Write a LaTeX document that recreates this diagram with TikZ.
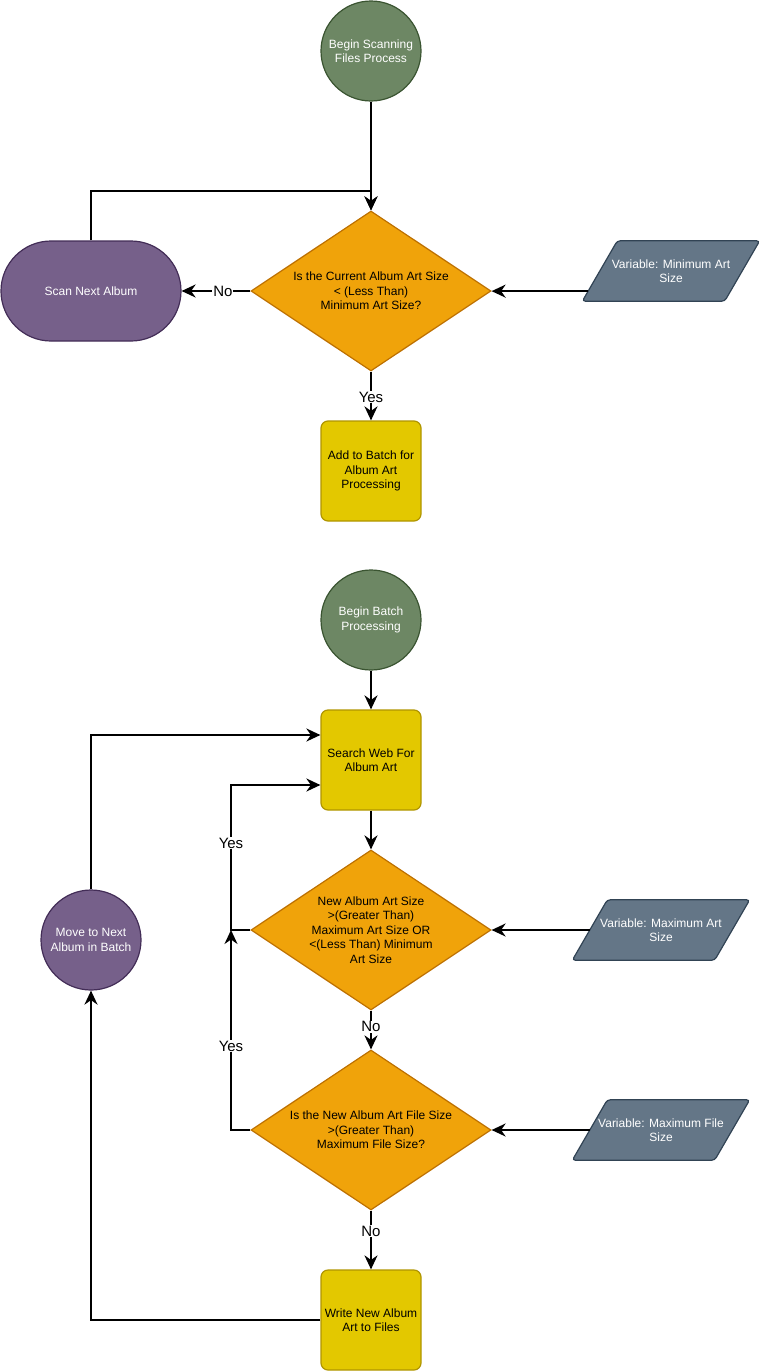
\documentclass[tikz,border=0pt]{standalone}
\usepackage{fontspec}
\setmainfont{Liberation Sans}
\usetikzlibrary{shapes.geometric,arrows.meta,calc,backgrounds}
\definecolor{gfill}{HTML}{6D8764}\definecolor{gdraw}{HTML}{3A5431}
\definecolor{pfill}{HTML}{76608A}\definecolor{pdraw}{HTML}{432D57}
\definecolor{ofill}{HTML}{F0A30A}\definecolor{odraw}{HTML}{BD7000}
\definecolor{yfill}{HTML}{E3C800}\definecolor{ydraw}{HTML}{B09500}
\definecolor{sfill}{HTML}{647687}\definecolor{sdraw}{HTML}{314354}
\tikzset{
  txt/.style={font=\fontsize{12}{14.5}\selectfont, align=center},
  startnode/.style={circle, fill=gfill, draw=gdraw, line width=1.2pt, minimum size=100pt, inner sep=0pt, txt, text=white},
  movenode/.style={circle, fill=pfill, draw=pdraw, line width=1.2pt, minimum size=100pt, inner sep=0pt, txt, text=white},
  stadium/.style={rectangle, rounded corners=50pt, fill=pfill, draw=pdraw, line width=1.2pt, minimum width=180pt, minimum height=100pt, txt, text=white},
  procbox/.style={rectangle, rounded corners=7pt, fill=yfill, draw=ydraw, line width=1.2pt, minimum width=100pt, minimum height=100pt, inner sep=0pt, txt, text=black},
  decision/.style={diamond, fill=ofill, draw=odraw, line width=1.2pt, minimum width=240pt, minimum height=160pt, inner sep=0pt},
  dectext/.style={txt, text=black, inner sep=0pt},
  varnode/.style={rectangle, minimum width=177pt, minimum height=60pt, inner sep=0pt, txt, text=white},
  varshape/.style={rounded corners=3pt, fill=sfill, draw=sdraw, line width=1.2pt},
  arr/.style={line width=2pt, -{Stealth[length=14pt,width=13pt,inset=4.5pt]}},
  lbl/.style={fill=white, inner sep=1pt, font=\fontsize{15}{17}\selectfont, text=black},
}
\begin{document}
\begin{tikzpicture}[x=1pt,y=-1pt]
\useasboundingbox (0,0) rectangle (762,1371);
% top section
\node[startnode] (c1) at (371,51) {Begin Scanning\\Files Process};
\node[decision, label={[dectext]center:Is the Current Album Art Size\\< (Less Than)\\Minimum Art Size?}] (d1) at (371,291) {};
\node[stadium] (s1) at (91,291) {Scan Next Album};
\node[varnode] (v1) at (671,271) {Variable: Minimum Art\\Size};
\node[procbox] (b1) at (371,471) {Add to Batch for\\Album Art\\Processing};
% bottom section
\node[startnode] (c2) at (371,620) {Begin Batch\\Processing};
\node[procbox] (b2) at (371,760) {Search Web For\\Album Art};
\node[decision, label={[dectext]center:New Album Art Size\\>(Greater Than)\\Maximum Art Size OR\\<(Less Than) Minimum\\Art Size}] (d2) at (371,930) {};
\node[varnode] (v2) at (661,930) {Variable: Maximum Art\\Size};
\node[decision, label={[dectext]center:Is the New Album Art File Size\\>(Greater Than)\\Maximum File Size?}] (d3) at (371,1130) {};
\node[varnode] (v3) at (661,1130) {Variable: Maximum File\\Size};
\node[procbox] (b3) at (371,1320) {Write New Album\\Art to Files};
\node[movenode] (c3) at (91,940) {Move to Next\\Album in Batch};
% parallelogram outlines behind the variable texts
\begin{pgfonlayer}{background}
\foreach \v in {v1,v2,v3}{
  \draw[varshape] (\v.south west) -- ($(\v.north west)+(35,0)$) -- (\v.north east) -- ($(\v.south east)+(-35,0)$) -- cycle;
}
\end{pgfonlayer}
% helper coordinates
\coordinate (j1) at (371,191);
\coordinate (v1in) at ($(v1.south west)!1/6!($(v1.north west)+(35,0)$)$);
\coordinate (v2in) at ($(v2.west)+(17.5,0)$);
\coordinate (v3in) at ($(v3.west)+(17.5,0)$);
\coordinate (j2) at (231,930);
% connectors
\draw[arr] (c1.south) -- (d1.north);
\draw[arr] (s1.north) |- (j1) -- (d1.north);
\draw[arr] (d1.west) -- node[lbl, pos=0.4]{No} (s1.east);
\draw[arr] (v1in) -- (v1in -| d1.east);
\draw[arr] (d1.south) -- node[lbl, pos=0.52]{Yes} (b1.north);
\draw[arr] (c2.south) -- (b2.north);
\draw[arr] (b2.south) -- (d2.north);
\draw[arr] (d2.south) -- node[lbl, pos=0.42]{No} (d3.north);
\draw[arr] (d3.south) -- node[lbl, pos=0.35]{No} (b3.north);
\draw[arr] (v2in) -- (d2.east);
\draw[arr] (v3in) -- (d3.east);
\draw[arr] (d2.west) -- (j2) |- node[lbl, pos=0.3]{Yes} ($(b2.west)+(0,25)$);
\draw[arr] (d3.west) -| node[lbl, pos=0.71]{Yes} (j2);
\draw[arr] (b3.west) -| (c3.south);
\draw[arr] (c3.north) |- ($(b2.west)+(0,-25)$);
\end{tikzpicture}
\end{document}
